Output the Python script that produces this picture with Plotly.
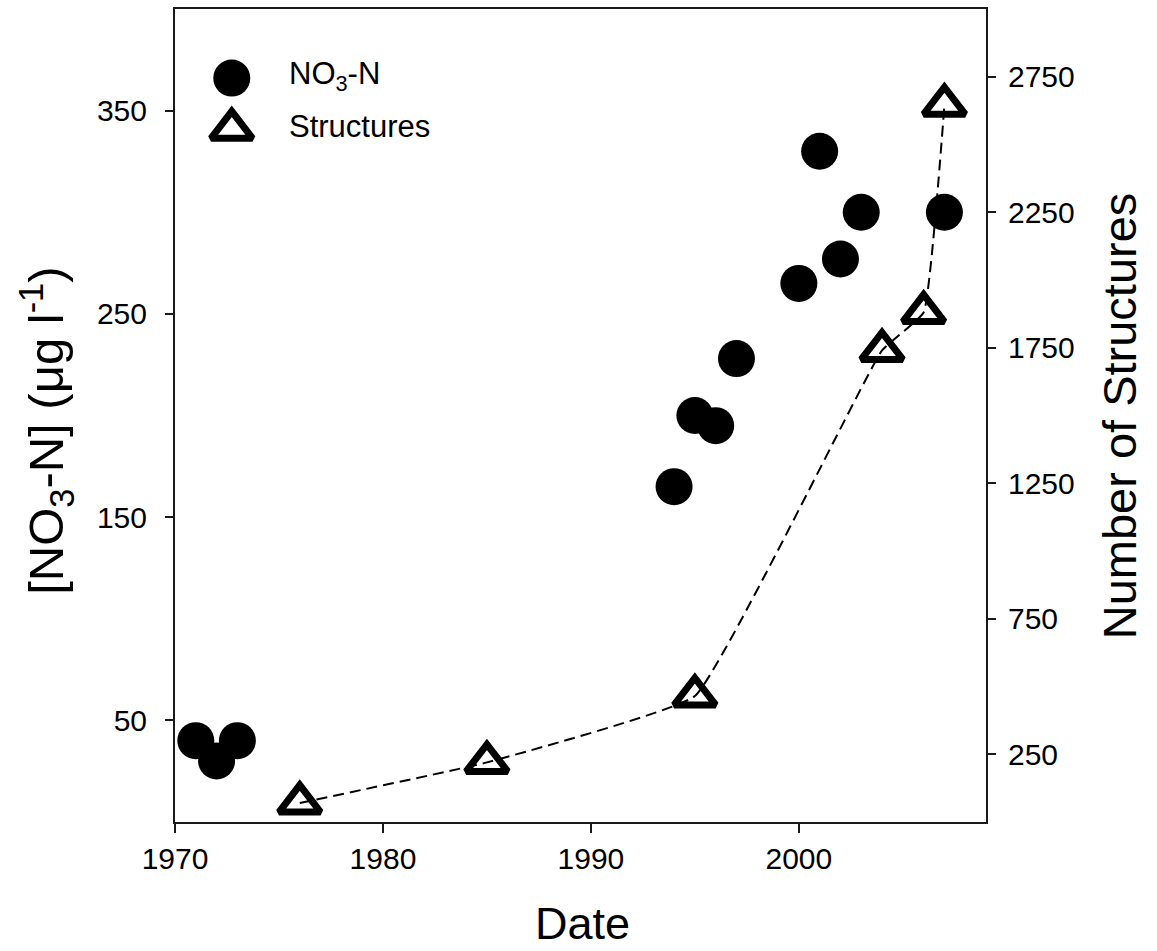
import plotly.graph_objects as go

# ---- data ----
no3_years = [1971, 1972, 1973, 1994, 1995, 1996, 1997, 2000, 2001, 2002, 2003, 2007]
no3_values = [40, 30, 40, 165, 200, 195, 228, 265, 330, 277, 300, 300]

struct_years = [1976, 1985, 1995, 2004, 2006, 2007]
struct_values = [70, 220, 465, 1740, 1880, 2645]

x_ticks = [1970, 1980, 1990, 2000]
y_left_ticks = [50, 150, 250, 350]
y_right_ticks = [250, 750, 1250, 1750, 2250, 2750]

legend_labels = ["NO<sub>3</sub>-N", "Structures"]

FONT = "Liberation Sans, Arial, Helvetica, sans-serif"
AX_COLOR = "#1a1a1a"
TICK_FONT = dict(family=FONT, size=30, color="black")

TRI = dict(symbol="triangle-up-open", size=36, color="black",
           line=dict(width=7, color="black"))
CIRC = dict(symbol="circle", size=37, color="black", line=dict(width=0))

fig = go.Figure()

fig.add_trace(go.Scatter(
    x=no3_years, y=no3_values, mode="markers", name=legend_labels[0],
    marker=CIRC, showlegend=False,
))

fig.add_trace(go.Scatter(
    x=struct_years, y=struct_values, mode="lines+markers", name=legend_labels[1],
    yaxis="y2",
    line=dict(color="black", width=2, dash="11px,6px", shape="spline", smoothing=0.3),
    marker=TRI, showlegend=False,
))

# legend (custom, large symbols) on a hidden unit overlay axis
leg_x = [0.07, 0.07]
leg_y = [0.915, 0.852]
fig.add_trace(go.Scatter(
    x=[leg_x[0]], y=[leg_y[0]], xaxis="x3", yaxis="y3", mode="markers",
    marker=CIRC, showlegend=False, hoverinfo="skip",
))
fig.add_trace(go.Scatter(
    x=[leg_x[1]], y=[leg_y[1]], xaxis="x3", yaxis="y3", mode="markers",
    marker=TRI, showlegend=False, hoverinfo="skip",
))

annotations = [
    dict(text=legend_labels[0], x=0.138, y=0.917, xref="paper", yref="paper",
         xanchor="left", yanchor="middle", showarrow=False,
         font=dict(family=FONT, size=31, color="black")),
    dict(text=legend_labels[1], x=0.138, y=0.855, xref="paper", yref="paper",
         xanchor="left", yanchor="middle", showarrow=False,
         font=dict(family=FONT, size=31, color="black")),
    dict(text="Date", x=0.502, y=-0.125, xref="paper", yref="paper",
         xanchor="center", yanchor="middle", showarrow=False,
         font=dict(family=FONT, size=45, color="black")),
    dict(text="[NO<sub>3</sub>-N] (\u03bcg l<sup>-1</sup>)", x=-0.158, y=0.481,
         xref="paper", yref="paper", xanchor="center", yanchor="middle",
         textangle=-90, showarrow=False,
         font=dict(family=FONT, size=49, color="black")),
    dict(text="Number of Structures", x=1.165, y=0.5,
         xref="paper", yref="paper", xanchor="center", yanchor="middle",
         textangle=-90, showarrow=False,
         font=dict(family=FONT, size=47, color="black")),
]

fig.update_layout(
    width=1157, height=951,
    margin=dict(l=175, r=171, t=7, b=129),
    paper_bgcolor="white", plot_bgcolor="white",
    showlegend=False,
    font=dict(family=FONT, color="black"),
    xaxis=dict(
        range=[1970, 2009], tickvals=x_ticks, ticks="outside", ticklen=9,
        tickwidth=2, tickcolor=AX_COLOR, showline=True, linecolor=AX_COLOR,
        linewidth=2, mirror=True, showgrid=False, zeroline=False,
        tickfont=TICK_FONT,
    ),
    yaxis=dict(
        range=[0, 400], tickvals=y_left_ticks, ticks="outside", ticklen=8,
        tickwidth=2, tickcolor=AX_COLOR, showline=True, linecolor=AX_COLOR,
        linewidth=2, showgrid=False, zeroline=False, tickfont=TICK_FONT,
        ticklabelstandoff=12,
    ),
    yaxis2=dict(
        range=[0, 3000], tickvals=y_right_ticks, ticks="outside", ticklen=8,
        tickwidth=2, tickcolor=AX_COLOR, showline=True, linecolor=AX_COLOR,
        linewidth=2, showgrid=False, zeroline=False, tickfont=TICK_FONT,
        overlaying="y", side="right", ticklabelstandoff=6,
    ),
    xaxis3=dict(range=[0, 1], overlaying="x", visible=False),
    yaxis3=dict(range=[0, 1], overlaying="y", visible=False),
    annotations=annotations,
)

fig.write_html("out.html")
